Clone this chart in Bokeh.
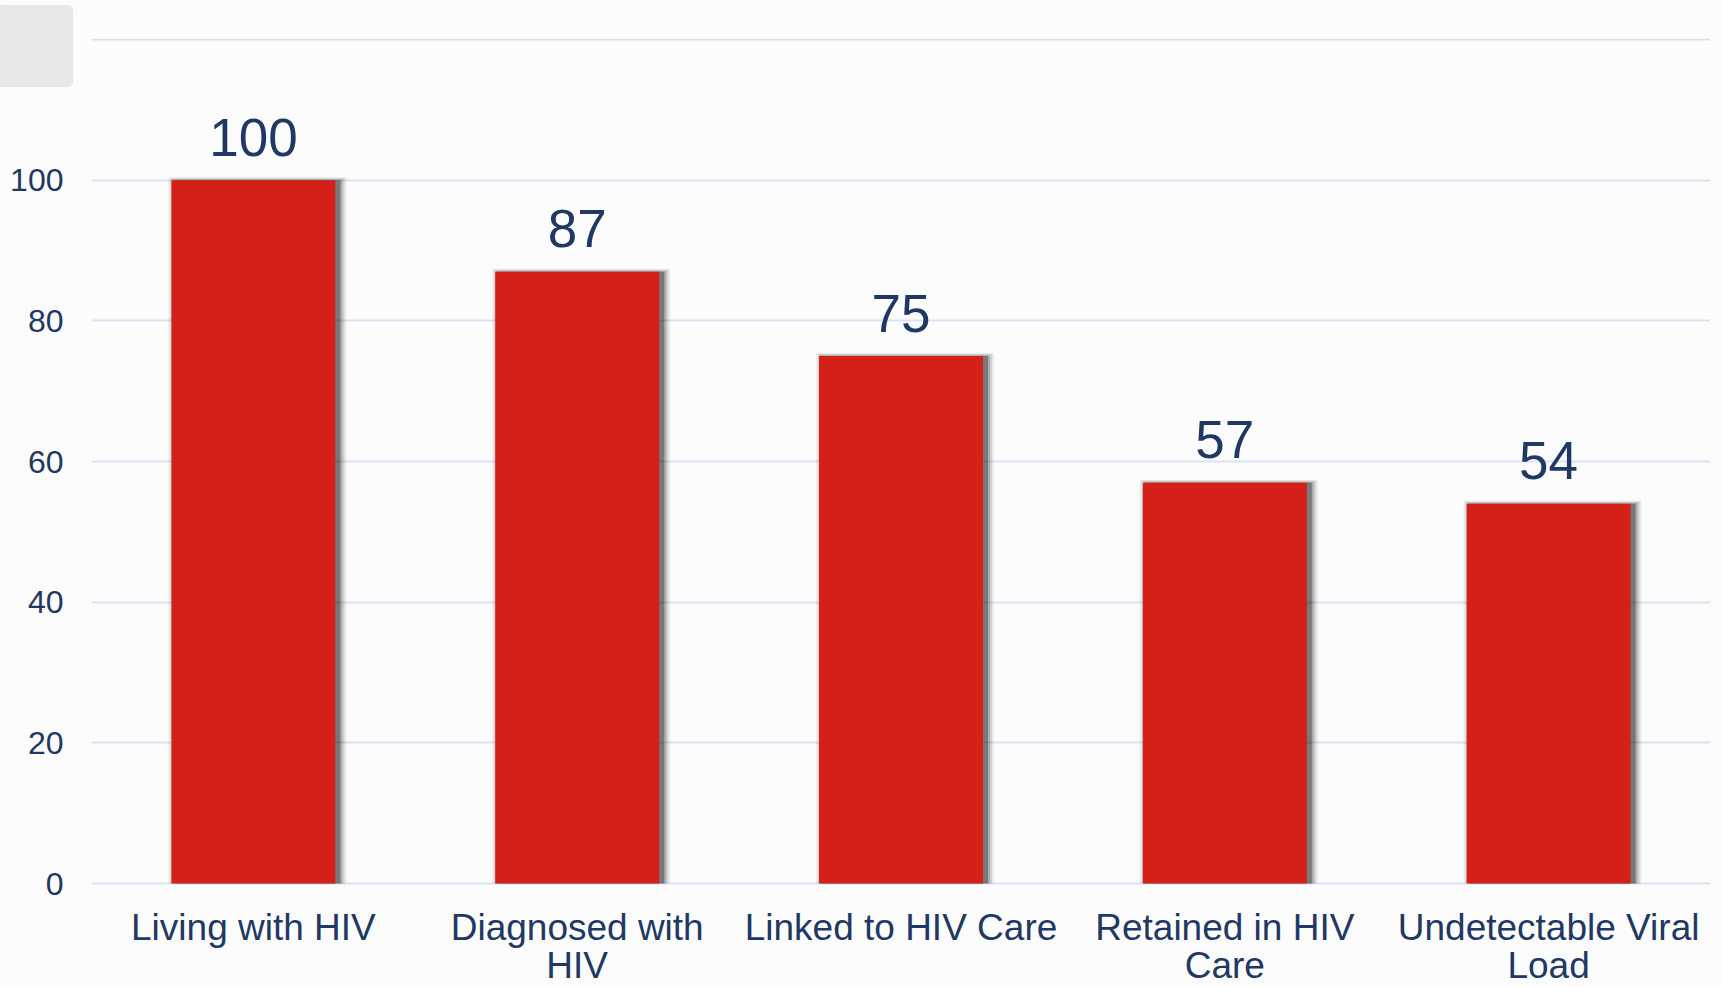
from bokeh.plotting import figure
from bokeh.models import ColumnDataSource, Range1d, FixedTicker, Div, GridBox
from bokeh.transform import dodge
from bokeh.core.properties import value
from bokeh.embed import file_html
from bokeh.resources import INLINE

# ---- data ----
categories = ["Living with HIV", "Diagnosed with HIV", "Linked to HIV Care",
              "Retained in HIV Care", "Undetectable Viral Load"]
values = [100, 87, 75, 57, 54]
tick_labels = ["Living with HIV", "Diagnosed with\nHIV", "Linked to HIV Care",
               "Retained in HIV\nCare", "Undetectable Viral\nLoad"]
y_ticks = [0, 20, 40, 60, 80, 100, 120]

# ---- layout constants ----
W, H = 1721, 987
TOP = 38            # frame top inside figure
LEFT = 91
RIGHT = 11
FRAME_H = H - TOP
ZERO_PX = 845       # distance of y=0 from frame top
Y_MAX = 120
SCALE = ZERO_PX / Y_MAX
Y_MIN = -(FRAME_H - ZERO_PX) / SCALE
FRAME_W = W - LEFT - RIGHT
XPX = FRAME_W / len(categories)

NAVY = "#1f3864"
RED = "#d42019"
FONT = "Liberation Sans"

line1 = [t.split("\n")[0] for t in tick_labels]
line2 = [t.split("\n")[1] if "\n" in t else "" for t in tick_labels]

src = ColumnDataSource(dict(cat=categories, val=values,
                            lab=[str(v) for v in values],
                            l1=line1, l2=line2,
                            zero=[0] * len(values)))

p = figure(x_range=categories, y_range=Range1d(Y_MIN, Y_MAX + 0.15),
           width=W, height=H, output_backend="svg", toolbar_location=None,
           x_axis_location=None, min_border_top=TOP, min_border_left=LEFT,
           min_border_right=RIGHT, min_border_bottom=0,
           background_fill_color="#fcfcfc", border_fill_color="#fcfcfc",
           outline_line_color=None)

BAR_W = 164 / XPX

# soft shadow layers (offset to the right)
for extra, up, alpha in [(14, 3, 0.07), (10, 2, 0.11), (6, 1, 0.17), (2, 0, 0.30)]:
    p.vbar(x=dodge("cat", 4 / XPX, range=p.x_range), width=BAR_W + extra / XPX,
           top=dodge("val", up / SCALE), bottom=0, source=src,
           fill_color="black", fill_alpha=alpha, line_color=None)

p.vbar(x="cat", width=BAR_W, top="val", bottom=0, source=src,
       fill_color=RED, line_color=None)

# value labels
p.text(x="cat", y=dodge("val", 43 / SCALE), text="lab", source=src,
       text_align="center", text_baseline="alphabetic",
       text_font=value(FONT), text_font_size="53px", text_color=NAVY)

# category labels (two lines)
p.text(x="cat", y=dodge("zero", -44 / SCALE), text="l1", source=src,
       text_align="center", text_baseline="alphabetic",
       text_font=value(FONT), text_font_size="37px", text_color=NAVY)
p.text(x="cat", y=dodge("zero", -82 / SCALE), text="l2", source=src,
       text_align="center", text_baseline="alphabetic",
       text_font=value(FONT), text_font_size="37px", text_color=NAVY)

# axes & grid
p.yaxis.ticker = FixedTicker(ticks=y_ticks)
p.yaxis.major_label_overrides = {120: ""}
p.yaxis.axis_line_color = None
p.yaxis.major_tick_line_color = None
p.yaxis.minor_tick_line_color = None
p.yaxis.major_tick_out = 0
p.yaxis.major_label_standoff = 28
p.yaxis.major_label_text_font = FONT
p.yaxis.major_label_text_font_size = "32px"
p.yaxis.major_label_text_color = NAVY
p.xgrid.grid_line_color = None
p.ygrid.grid_line_color = "#dae3f3"
p.ygrid.grid_line_width = 2
p.ygrid.ticker = FixedTicker(ticks=y_ticks)

# grey corner box, overlaid in the same grid cell
corner = Div(text='<div style="margin-top:5px;width:73px;height:82px;'
                  'background:#e8e8e8;border-radius:0 5px 5px 0;"></div>',
             width=73, height=87, margin=(0, 0, 0, 0))

layout = GridBox(children=[(p, 0, 0), (corner, 0, 0)])

open("out.html", "w").write(file_html(layout, INLINE))
